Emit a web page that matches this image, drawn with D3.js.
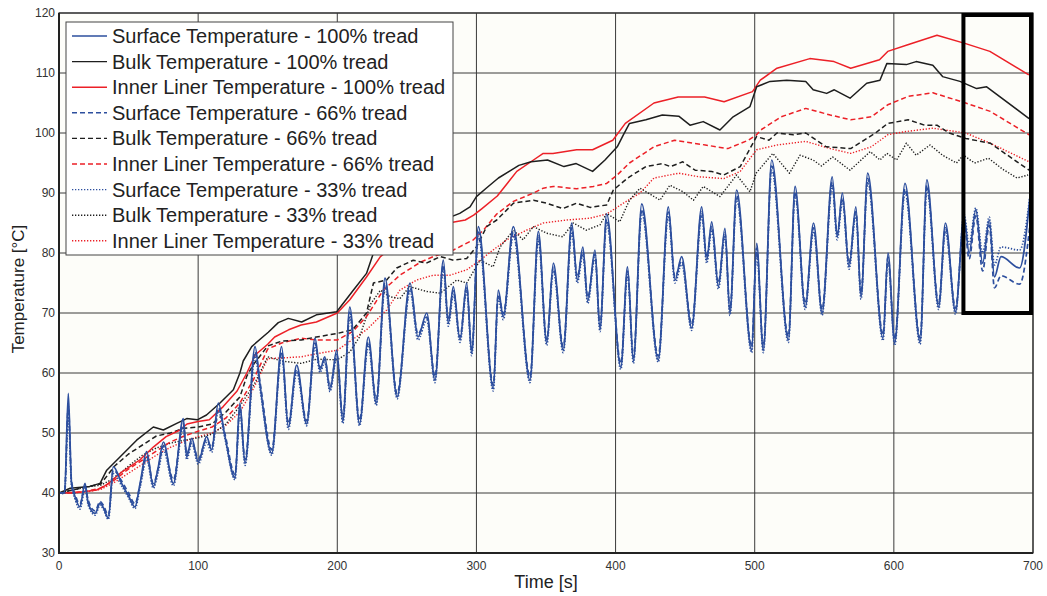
<!DOCTYPE html>
<html><head><meta charset="utf-8">
<script src="https://cdn.jsdelivr.net/npm/d3@7/dist/d3.min.js"></script>
<style>body{margin:0;background:#fff;}svg{display:block;font-family:"Liberation Sans",Arial,sans-serif;}</style>
</head><body><svg id="c" width="1047" height="596"></svg>
<script>
// ---------- DATA ----------
const xTicks = [0,100,200,300,400,500,600,700];
const yTicks = [30,40,50,60,70,80,90,100,110,120];
const seriesNames = [
  "Surface Temperature - 100% tread","Bulk Temperature - 100% tread","Inner Liner Temperature - 100% tread",
  "Surface Temperature - 66% tread","Bulk Temperature - 66% tread","Inner Liner Temperature - 66% tread",
  "Surface Temperature - 33% tread","Bulk Temperature - 33% tread","Inner Liner Temperature - 33% tread"];

const surfTime = [0,4,6.7,9,11.5,15,18.7,21,26,29.5,32,35.5,39,45,50,54.6,58.2,63,67.8,71.4,75,82.2,89.3,91.8,95.4,100.1,106.1,109.7,114.5,119.3,126.5,130,133.7,140.9,144.5,152.9,160,164.8,170.8,178,184,187.6,191,194.8,199.6,204,209,216,222.3,228,234.3,243,252.3,258,264.3,270.2,276.2,279.8,283.4,288.2,293,296.6,301.4,312.1,315.7,319.3,326.5,338.5,344.5,350.5,355.3,362.4,368.5,372.5,376.5,380,385.2,388.8,393.6,403.8,408.6,412.8,418.8,430.7,437.9,442.7,447.5,454.7,461.9,465.5,469.1,473.9,478.6,482.2,487,497.8,501.4,506.2,512.2,524.2,529,536.3,542.3,548.4,555.7,559.3,563,567.8,572.7,576.4,581.2,592.2,595.8,600.6,608,618.9,623.7,632.2,637.1,644.3,650.4,654.1,658.9,663.8,668.6,672.3,677,690.4,697.8];
const surface100 = [40,40,56.6,41.6,39.4,37.7,41.6,38.3,36.6,38.3,37.5,35.8,44.4,41.6,39.5,37.7,41.5,46.9,41.1,44.4,48.5,41.6,52.4,46,49.1,45.2,49.4,47.2,55,49.4,42.5,55,45,64.4,58,46.6,64.4,51,61.3,51.5,65.8,60.5,62.7,57.2,63.8,52,71,51.5,66,55,75.8,56,75,66,70,58.8,78.8,68.3,74.4,65.5,75,63.3,84.4,57.4,73.8,69.4,84.4,58.8,83.6,65,78.3,63.8,85,75.5,81,72,80.5,67.3,86.5,61,77.7,62,88.2,62.2,87.7,75.5,79.4,67.5,87.7,78.8,85.2,74.4,84.1,70,90.5,63.8,81.6,63.8,95.5,65.5,91.1,71,85,70,92.7,82.7,90,77.7,87.7,72.7,93.3,65.8,80,65,91.6,65.2,92.2,71,85,70.2,86.1,80,87.2,78.3,85.5,76,79.4,77.5,89.4];
const surface66 = [40,40.1,54.5,42,39.8,38.2,41,38.8,37,38.6,37.9,36.3,43.8,42,40,38.2,41.3,46.2,41.6,44.2,47.8,42.2,51.6,46.5,48.6,45.7,48.9,47.6,54.2,49.8,43.1,54.2,45.6,63.5,58.4,47.2,63.6,51.6,60.6,52,65,60.9,62.2,57.7,63.1,52.6,70.1,52.1,65.2,55.6,75,56.6,74.2,66.5,69.3,59.4,78,68.8,73.7,66,74.3,63.9,83.5,58,73.1,69.9,83.5,59.4,82.8,65.6,77.6,64.4,84.2,76,80.3,72.6,79.8,67.9,85.6,61.6,77,62.6,87.3,62.8,86.8,76,78.7,68.1,86.8,79.3,84.4,75,83.3,70.6,89.6,64.4,80.8,64.4,94.5,66.1,90.2,71.6,84.2,70.6,91.8,83.2,89.2,78.3,86.9,73.3,92.4,66.4,79.3,65.6,90.7,65.8,91.3,71.6,84.2,70.8,85.3,79,86.2,77,84.6,74.2,76.2,74.8,84.6];
const surface33 = [40,39.9,53,41.2,39,37.3,40.5,38,36.3,38,37.2,35.6,43.2,41.2,39.2,37.4,40.8,45.6,40.8,43.6,47.2,41.2,51,45.6,48.2,44.8,48.4,46.8,53.6,49,42.2,53.5,44.6,62.8,57.3,46.3,63,50.6,60,51.2,64.4,60.1,61.8,56.9,62.5,51.6,69.5,51.2,64.6,54.6,74.3,55.7,73.6,65.5,68.8,58.4,77.3,67.8,73.1,65.1,73.7,62.9,82.8,57,72.4,68.9,82.9,58.4,82.1,64.6,77,63.4,83.5,75,79.7,71.6,79.2,66.9,85,60.6,76.4,61.6,86.7,61.8,86.2,75,78.1,67.1,86.2,78.3,83.8,74,82.7,69.6,89,63.4,80.2,63.4,93.8,65.1,89.6,70.6,83.6,69.6,91.2,82.2,88.6,77.3,86.3,72.3,91.8,65.4,78.7,64.6,90.1,64.8,90.7,70.6,83.6,69.8,86.5,81.5,87.5,80,86,78,81,80.5,89.5];

const bulk100 = [[0,40],[8,40.8],[22,41.1],[29.5,41.6],[34.3,43.8],[43.8,46],[55.8,48.8],[67.8,51],[75,50.5],[84.6,51.6],[91.8,52.4],[99.4,52.2],[106,53],[115.7,55],[125.3,57.2],[130,60],[132.4,62],[138.5,64.4],[150.4,66.8],[157.6,68.4],[164.8,69.1],[174.4,68.5],[185,69.7],[199.6,70.2],[211.5,73.8],[221,76.6],[226,80],[245,83],[265,84.5],[288,86.6],[295.4,87.7],[300,89.4],[307,90.8],[315.8,92.5],[330.5,94.6],[339.3,95.2],[351.1,95.5],[362.9,94.4],[371.7,94.9],[383.5,93.6],[392.4,95.5],[401.2,97.7],[405.6,99.7],[410,101.6],[421.8,102.2],[433.6,103],[445.4,102.8],[453.5,101.3],[463,101.9],[475,100.5],[484.5,102.7],[496.6,104.4],[501.4,107.7],[511,108.6],[523,108.8],[536.7,108.6],[542,107.2],[551.7,106.6],[557.2,107.2],[568.5,105.8],[580.5,108.3],[590,108.8],[595,111.6],[609,111.4],[616,111.9],[628,111.3],[635,109.4],[647.5,108.6],[659.5,107.4],[666.7,107.7],[697.2,102.4]];
const liner100 = [[0,40],[10,40.1],[17.5,40.2],[27,40.5],[34,41.3],[44,43.3],[58,45.5],[68,47.7],[77,49.4],[87,50.5],[92,51.5],[100,51.9],[108,52.2],[118,54.4],[128,57],[135,60],[141,63],[150,64.8],[155,66],[165,67.2],[174,68],[185,68.5],[200,70],[209,72.2],[221,76],[231,79.4],[245,82],[260,84],[275,84.8],[285,85.2],[292,85.5],[298,86.3],[304,87.4],[315,89.5],[329,93.6],[341,95.5],[348,96.6],[355,96.6],[372,97.2],[383.5,97.2],[398,98.8],[407,101.6],[427.6,105],[445,106],[464,106],[478,105.2],[498.4,106.9],[504,108.8],[516,110.8],[539.6,112.4],[557,111.9],[569,110.8],[589.7,112.2],[595.6,113.6],[610,114.7],[631,116.3],[651.6,114.9],[669,113.6],[697,109.7]];
const bulk66 = [[0,40],[10,40.5],[20,41],[30,41.5],[40,44.5],[50,46.5],[60,48],[70,49.5],[80,50],[90,50.8],[100,51],[110,51.5],[120,53.5],[130,56],[135,59.5],[140,61.5],[150,64.5],[160,65.3],[174,65.5],[185,66],[200,66.6],[211,67.2],[221,70],[226,75],[235.5,75.5],[242.7,77.5],[254.6,78.8],[264,78.3],[274,79.4],[283.5,78.8],[293,79.1],[300,81],[307.4,84.4],[314.6,85.5],[326.6,88.3],[341,88.8],[350.5,88.3],[362,87.4],[372,88.3],[381.6,87.6],[393.6,88],[398.4,90.5],[405.6,91.9],[410,92.7],[421.8,94.4],[433.6,94.9],[439.5,94.4],[448.3,95.2],[457.2,93.8],[469,93.6],[477.8,93],[489.6,94.4],[501.3,99.4],[510.2,98.8],[516,100],[527.8,99.7],[536.7,100],[551.4,97.7],[569,97.4],[586.8,100],[595.6,101.6],[610.3,102.2],[622.1,101.3],[631,101.3],[639.8,100],[651.6,99.1],[669.3,98.3],[697.2,93.8]];
const liner66 = [[0,40],[10,40],[20,40.3],[30,40.8],[40,42.2],[50,44],[60,45.5],[70,47],[80,48.5],[90,49.5],[100,50.3],[110,51],[120,52.5],[130,55],[140,59],[150,64],[160,65],[174,65.8],[185,65.5],[200,65.5],[211,66.9],[221,69.4],[233,73.8],[245,76.3],[260,78.5],[270,79.5],[283.5,80.5],[297.8,82.2],[305,83.8],[314.6,86.5],[326.6,88.6],[341,90],[348,90.8],[355.3,91.1],[372,90.7],[384,91.1],[393.6,91.6],[401.2,93],[410,95],[427.6,97.7],[442.4,98.8],[464.5,98],[480.7,97.4],[495.4,98.8],[501.3,99.7],[504.3,100.5],[519,102.7],[536.7,104.1],[554.3,103],[569,102.2],[583.8,102.7],[595.6,104.7],[610.3,106.1],[628,106.7],[651.6,105],[669.3,103.6],[697.2,99.7]];
const bulk33 = [[0,40],[10,40.5],[20,41],[30,41.3],[40,42.5],[50,44.5],[60,46.3],[70,47.5],[80,48.3],[90,48.8],[100,49.2],[110,49.8],[120,51.5],[130,54.5],[140,58],[150,62.7],[160,62],[174,61.6],[185,62.3],[200,62.2],[209,63.5],[216,66],[224,71.5],[231,73.8],[238,72.7],[245,72.4],[252,74.4],[264,73.6],[274,73.3],[285.8,75.5],[293,75],[302.6,78.8],[312,77.7],[317,81],[326.6,83.8],[333.5,82.2],[340.9,84.4],[350.5,83.3],[362,82.7],[369.6,85],[379,83.8],[388.8,84.7],[393.6,86.6],[403,85.2],[410,88.8],[417.6,90.8],[432,88.8],[439,91.3],[448.5,90.2],[456,88.8],[463,91.1],[475,89.4],[487,93],[496.6,90.2],[501,93.3],[513,96.6],[525,93.3],[532.6,96.3],[542,95.5],[548,94.5],[556,96],[568.5,93.8],[583,96.9],[590,95.5],[595,96.6],[602,95.5],[609,98.3],[616,96.3],[626,98],[635,96.3],[645,95],[650,96.3],[658,95],[668,95.8],[678,94],[688.5,92.5],[696.5,93]];
const liner33 = [[0,40],[10,40],[20,40.2],[30,40.6],[40,41.8],[50,43.3],[60,44.8],[70,46.3],[80,47.6],[90,48.6],[100,49.4],[110,50],[120,51.3],[130,53.5],[140,57.5],[150,62.4],[160,62.5],[174,62.7],[185,63.2],[200,63.8],[221,67.2],[235.5,70.5],[245,73.8],[257,75.5],[269,76.3],[281,76.3],[293,77.2],[302.6,78.8],[312,80.5],[321.8,82.2],[336,83.8],[348,85],[365,85.5],[381.6,85.8],[393.6,86.5],[405.6,88.3],[417.6,90],[427.6,92.5],[445.4,93.3],[460,92.7],[477.8,92.4],[489.6,93.6],[501.3,97.2],[516,98],[536.7,98.6],[554.3,97.4],[569,96.6],[583.8,97.7],[595.6,99.7],[607.3,100.2],[628,100.8],[651.6,100],[669.3,98.3],[697.2,95.2]];
const highlightBox = {t0:650, t1:700, v0:70, v1:120};

// ---------- DRAW ----------
const svg = d3.select("#c");
const L=59, R=1033, T=13, B=553;
const x = d3.scaleLinear().domain([0,700]).range([L,R]);
const y = d3.scaleLinear().domain([30,120]).range([B,T]);

svg.append("rect").attr("x",L).attr("y",T).attr("width",R-L).attr("height",B-T).attr("fill","#fdfdf9");

const grid = svg.append("g");
grid.selectAll("line.v").data(xTicks).join("line").attr("x1",d=>x(d)).attr("x2",d=>x(d)).attr("y1",T).attr("y2",B).attr("stroke","#3a3a3a").attr("stroke-width",1);
grid.selectAll("line.h").data(yTicks).join("line").attr("y1",d=>y(d)).attr("y2",d=>y(d)).attr("x1",L).attr("x2",R).attr("stroke","#3a3a3a").attr("stroke-width",1);

svg.append("defs").append("clipPath").attr("id","clip").append("rect").attr("x",L).attr("y",T).attr("width",R-L).attr("height",B-T);

const BLUE="#2d4f9e", BLACK="#1e1e1e", RED="#ec2027";
const DASH="5,3", DOT="1.3,1.7";
const zip = (ts,vs)=>ts.map((t,i)=>[t,vs[i]]);
const series = [
  {name:seriesNames[0], data:zip(surfTime,surface100), color:BLUE, dash:null, w:1.7, smooth:true},
  {name:seriesNames[1], data:bulk100, color:BLACK, dash:null, w:1.5},
  {name:seriesNames[2], data:liner100, color:RED, dash:null, w:1.5},
  {name:seriesNames[3], data:zip(surfTime,surface66), color:BLUE, dash:DASH, w:1.7, smooth:true},
  {name:seriesNames[4], data:bulk66, color:BLACK, dash:DASH, w:1.5},
  {name:seriesNames[5], data:liner66, color:RED, dash:DASH, w:1.5},
  {name:seriesNames[6], data:zip(surfTime,surface33), color:BLUE, dash:DOT, w:1.7, smooth:true},
  {name:seriesNames[7], data:bulk33, color:BLACK, dash:DOT, w:1.4},
  {name:seriesNames[8], data:liner33, color:RED, dash:DOT, w:1.4}
];
const lineLin = d3.line().x(d=>x(d[0])).y(d=>y(d[1]));
const lineSmooth = d3.line().x(d=>x(d[0])).y(d=>y(d[1])).curve(d3.curveMonotoneX);
const drawOrder = [8,7,5,4,2,1,6,3,0];
const lines = svg.append("g").attr("clip-path","url(#clip)");
drawOrder.forEach(i=>{
  const s=series[i];
  lines.append("path").attr("d",(s.smooth?lineSmooth:lineLin)(s.data)).attr("fill","none").attr("stroke",s.color)
    .attr("stroke-width",s.w).attr("stroke-dasharray",s.dash).attr("stroke-linejoin","round");
});

// frame
svg.append("rect").attr("x",L).attr("y",T).attr("width",R-L).attr("height",B-T).attr("fill","none").attr("stroke","#333").attr("stroke-width",1.2);
svg.append("line").attr("x1",L).attr("x2",L).attr("y1",T).attr("y2",B+1).attr("stroke","#222").attr("stroke-width",2);
svg.append("line").attr("x1",L-1).attr("x2",R).attr("y1",B).attr("y2",B).attr("stroke","#222").attr("stroke-width",2);

// highlight box
svg.append("rect").attr("x",x(highlightBox.t0)).attr("y",y(highlightBox.v1)+2)
  .attr("width",x(highlightBox.t1)-x(highlightBox.t0)-2).attr("height",y(highlightBox.v0)-y(highlightBox.v1)-2)
  .attr("fill","none").attr("stroke","#000").attr("stroke-width",4);

// tick labels
svg.append("g").selectAll("text").data(yTicks).join("text").attr("x",L-4).attr("y",d=>y(d)).attr("dy","0.35em")
  .attr("text-anchor","end").attr("font-size",12).attr("fill","#333").text(d=>d);
svg.append("g").selectAll("text").data(xTicks).join("text").attr("x",d=>x(d)).attr("y",B+17)
  .attr("text-anchor","middle").attr("font-size",12).attr("fill","#333").text(d=>d);

// axis titles
svg.append("text").attr("x",546).attr("y",588).attr("text-anchor","middle").attr("font-size",18).attr("fill","#222").text("Time [s]");
svg.append("text").attr("transform","translate(24,289) rotate(-90)").attr("text-anchor","middle").attr("font-size",17).attr("fill","#222").text("Temperature [°C]");

// legend
const lg = svg.append("g");
lg.append("rect").attr("x",66).attr("y",22).attr("width",387).attr("height",233).attr("fill","#fff").attr("stroke","#444").attr("stroke-width",1);
series.forEach((s,i)=>{
  const cy = 36 + i*25.6;
  lg.append("line").attr("x1",72).attr("x2",107).attr("y1",cy).attr("y2",cy).attr("stroke",s.color).attr("stroke-width",1.4).attr("stroke-dasharray",s.dash);
  lg.append("text").attr("x",112).attr("y",cy).attr("dy","0.35em").attr("font-size",20).attr("fill","#222").text(s.name);
});
</script></body></html>
